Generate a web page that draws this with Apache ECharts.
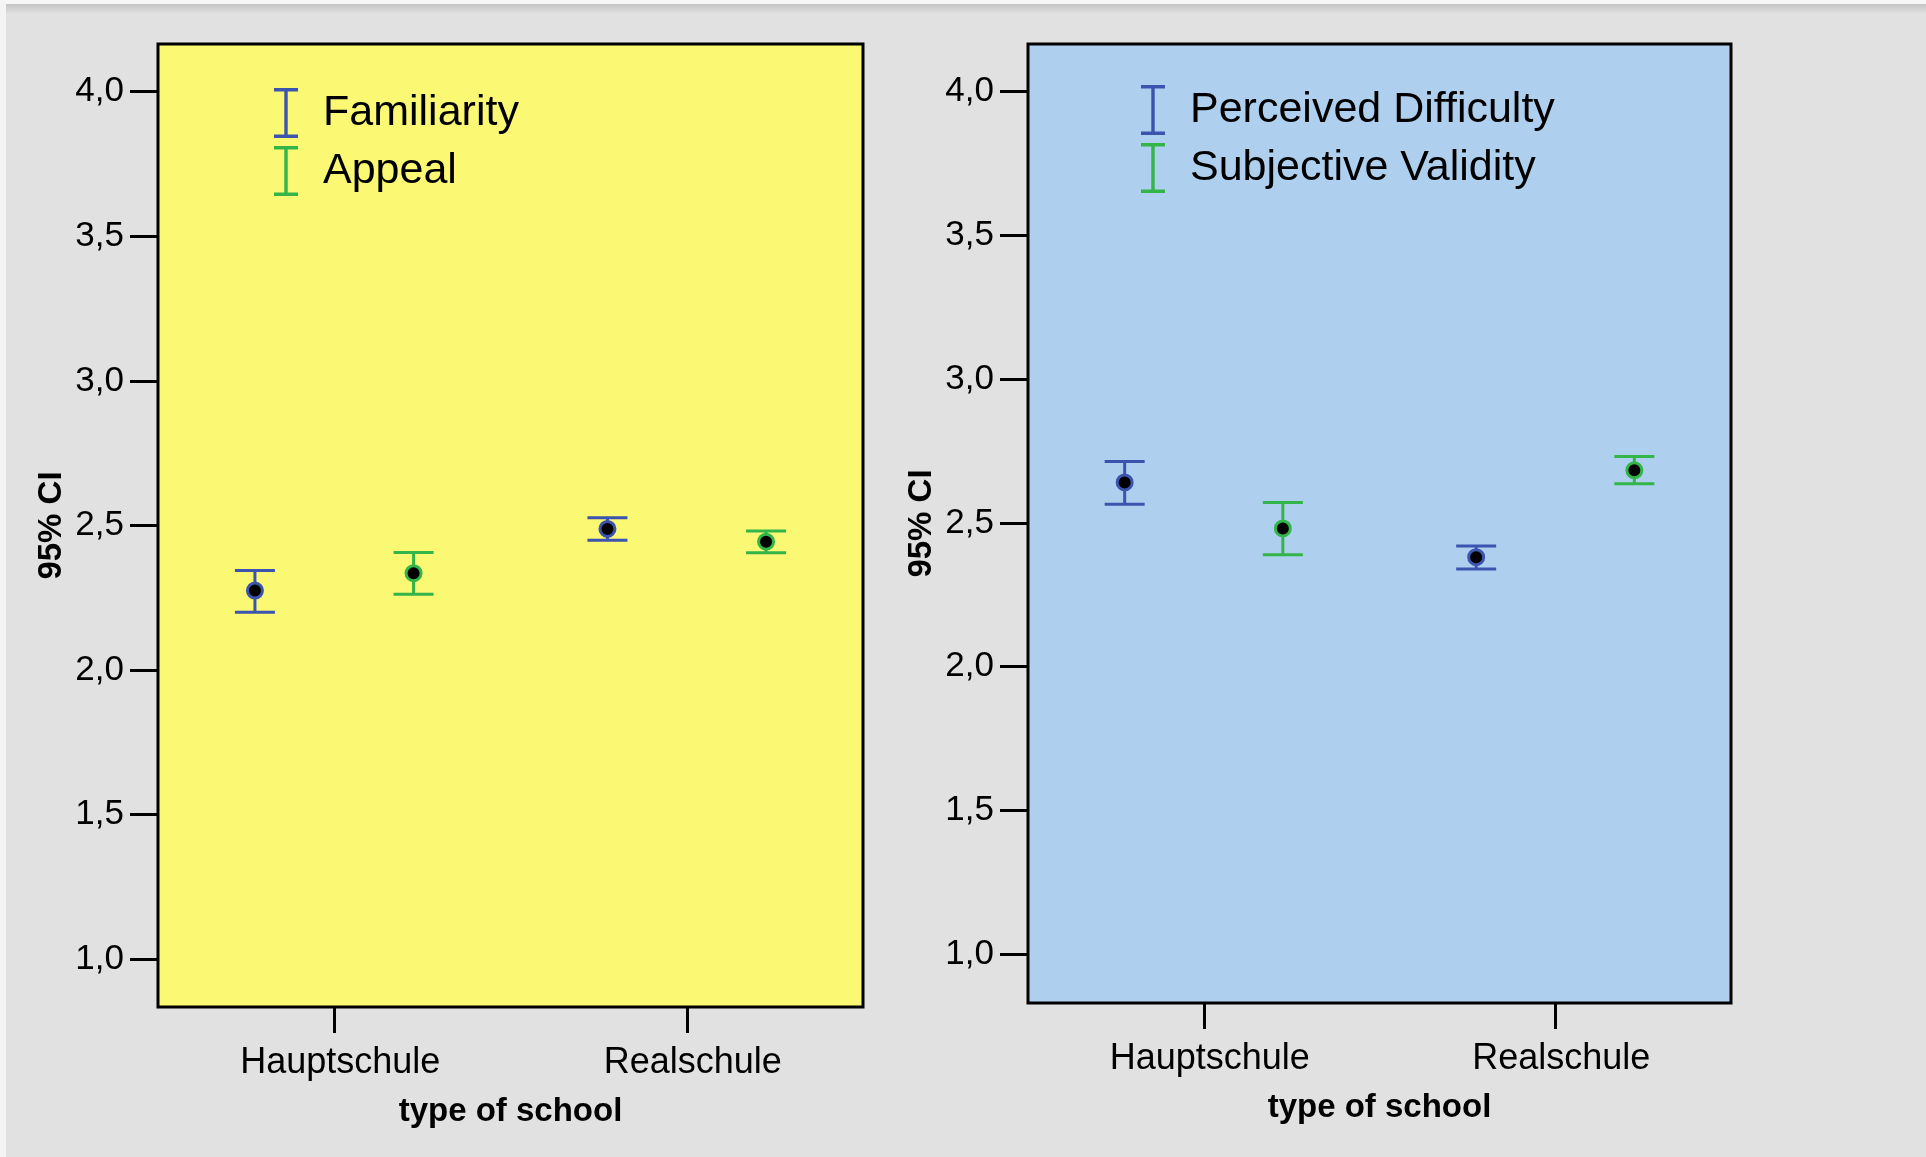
<!DOCTYPE html>
<html>
<head>
<meta charset="utf-8">
<script src="https://cdn.jsdelivr.net/npm/echarts@6/dist/echarts.min.js"></script>
<style>
html,body{margin:0;padding:0;background:#e1e1e1;}
#chart{width:1926px;height:1157px;}
</style>
</head>
<body>
<div id="chart"></div>
<script>
// ---- data ----
const categories = ['Hauptschule', 'Realschule'];
const yTicks = [1.0, 1.5, 2.0, 2.5, 3.0, 3.5, 4.0];

const familiarityMean = [2.275, 2.488];
const familiarityLow  = [2.200, 2.449];
const familiarityHigh = [2.344, 2.527];

const appealMean = [2.335, 2.444];
const appealLow  = [2.262, 2.406];
const appealHigh = [2.407, 2.481];

const difficultyMean = [2.641, 2.381];
const difficultyLow  = [2.565, 2.340];
const difficultyHigh = [2.714, 2.420];

const validityMean = [2.481, 2.683];
const validityLow  = [2.389, 2.636];
const validityHigh = [2.571, 2.731];

// ---- styling ----
const FONT = '"Liberation Sans", Arial, sans-serif';
const BLUE = '#3b55af';
const GREEN = '#33b54a';
const ICON = 'path://M0,0H24V3.5H0Z M10.3,3H13.7V47H10.3Z M0,46.5H24V50H0Z';

function rows(mean, low, high) {
  return categories.map((c, i) => [i, mean[i], low[i], high[i]]);
}

function errSeries(name, color, mean, low, high, gridIdx, dodge) {
  return {
    type: 'custom',
    name: name,
    xAxisIndex: gridIdx,
    yAxisIndex: gridIdx,
    itemStyle: { color: color },
    encode: { x: 0, y: [1, 2, 3] },
    data: rows(mean, low, high),
    renderItem: function (params, api) {
      const i = api.value(0);
      const pm = api.coord([i, api.value(1)]);
      const pl = api.coord([i, api.value(2)]);
      const ph = api.coord([i, api.value(3)]);
      const band = api.size([1, 0])[0];
      const x = pm[0] + band * dodge;
      const hw = 20;
      const st = { stroke: color, lineWidth: 3 };
      return {
        type: 'group',
        children: [
          { type: 'line', shape: { x1: x, y1: ph[1], x2: x, y2: pl[1] }, style: st },
          { type: 'line', shape: { x1: x - hw, y1: ph[1], x2: x + hw, y2: ph[1] }, style: st },
          { type: 'line', shape: { x1: x - hw, y1: pl[1], x2: x + hw, y2: pl[1] }, style: st },
          { type: 'circle', shape: { cx: x, cy: pm[1], r: 7.5 }, style: { fill: '#000', stroke: color, lineWidth: 3 } }
        ]
      };
    }
  };
}

function yAxisDef(gridIdx, min, max) {
  return {
    type: 'value', gridIndex: gridIdx, min: min, max: max,
    axisLine: { show: false },
    splitLine: { show: false },
    axisTick: { show: true, length: 28, customValues: yTicks, lineStyle: { color: '#000', width: 3 } },
    axisLabel: {
      customValues: yTicks, margin: 34, fontSize: 35, color: '#000', fontFamily: FONT,
      formatter: v => v.toFixed(1).replace('.', ',')
    },
    name: '95% CI', nameLocation: 'middle', nameGap: 90,
    nameTextStyle: { fontSize: 33, fontWeight: 'bold', color: '#000', fontFamily: FONT }
  };
}

function xAxisDef(gridIdx) {
  return {
    type: 'category', gridIndex: gridIdx, data: categories,
    axisLine: { show: false },
    axisTick: { show: true, alignWithLabel: true, length: 26, lineStyle: { color: '#000', width: 3 } },
    axisLabel: { margin: 38, fontSize: 36, color: '#000', fontFamily: FONT, padding: [0, 0, 0, 12] },
    name: 'type of school', nameLocation: 'middle', nameGap: 88,
    nameTextStyle: { fontSize: 33, fontWeight: 'bold', color: '#000', fontFamily: FONT }
  };
}

function legendDef(left, top, names) {
  return {
    left: left, top: top, orient: 'vertical', padding: 0,
    itemWidth: 24, itemHeight: 50, itemGap: 8,
    icon: ICON, data: names, selectedMode: false,
    textStyle: { fontSize: 43, color: '#000', fontFamily: FONT, padding: [14, 0, 0, 20] }
  };
}

const chart = echarts.init(document.getElementById('chart'), null, { renderer: 'canvas' });
chart.setOption({
  backgroundColor: '#e1e1e1',
  animation: false,
  graphic: [
    { type: 'rect', shape: { x: 0, y: 0, width: 1926, height: 4 }, style: { fill: '#f6f6f6' } },
    { type: 'rect', shape: { x: 0, y: 4, width: 1926, height: 10 },
      style: { fill: new echarts.graphic.LinearGradient(0, 0, 0, 1, [
        { offset: 0, color: '#c4c4c4' }, { offset: 1, color: '#e1e1e1' }]) } },
    { type: 'rect', shape: { x: 0, y: 0, width: 6, height: 1157 }, style: { fill: '#f4f4f4' } }
  ],
  grid: [
    { left: 158, top: 44, width: 705, height: 963, show: true, backgroundColor: '#fbf874', borderColor: '#000', borderWidth: 3 },
    { left: 1028, top: 44, width: 703, height: 959, show: true, backgroundColor: '#aed0ee', borderColor: '#000', borderWidth: 3 }
  ],
  xAxis: [xAxisDef(0), xAxisDef(1)],
  yAxis: [yAxisDef(0, 0.835, 4.165), yAxisDef(1, 0.830, 4.166)],
  legend: [
    legendDef(274, 88, ['Familiarity', 'Appeal']),
    legendDef(1141, 85, ['Perceived Difficulty', 'Subjective Validity'])
  ],
  series: [
    errSeries('Familiarity', BLUE, familiarityMean, familiarityLow, familiarityHigh, 0, -0.225),
    errSeries('Appeal', GREEN, appealMean, appealLow, appealHigh, 0, 0.225),
    errSeries('Perceived Difficulty', BLUE, difficultyMean, difficultyLow, difficultyHigh, 1, -0.225),
    errSeries('Subjective Validity', GREEN, validityMean, validityLow, validityHigh, 1, 0.225)
  ]
});
</script>
</body>
</html>
